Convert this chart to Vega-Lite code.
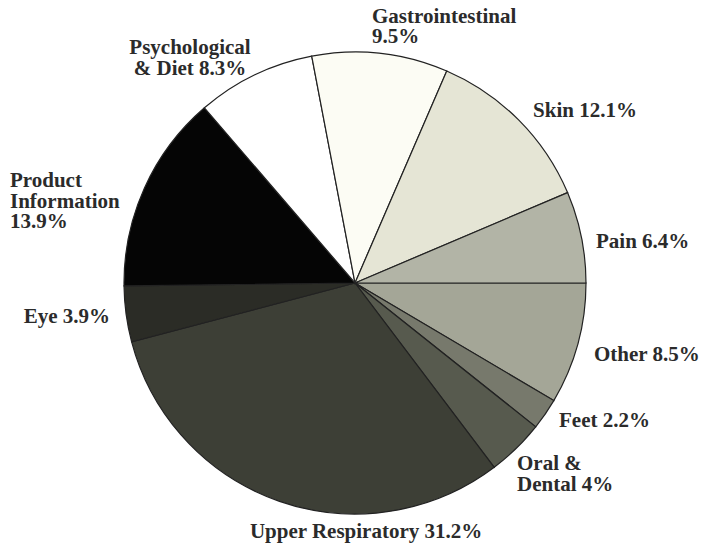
{
  "$schema": "https://vega.github.io/schema/vega-lite/v6.json",
  "width": 694,
  "height": 534,
  "autosize": "none",
  "padding": {"left": 8, "top": 16, "right": 0, "bottom": 0},
  "background": "white",
  "config": {
    "view": {"stroke": null},
    "text": {
      "font": "Liberation Serif",
      "fontWeight": "bold",
      "fontSize": 21,
      "lineHeight": 20.5,
      "lineBreak": "\n",
      "baseline": "alphabetic",
      "fill": "#2b2b2b"
    }
  },
  "data": {
    "values": [
      {"seq": 1, "cat": "Other", "pct": 8.5, "label": "Other 8.5%"},
      {"seq": 2, "cat": "Feet", "pct": 2.2, "label": "Feet 2.2%"},
      {"seq": 3, "cat": "Oral & Dental", "pct": 4, "label": "Oral &\nDental 4%"},
      {"seq": 4, "cat": "Upper Respiratory", "pct": 31.2, "label": "Upper Respiratory 31.2%"},
      {"seq": 5, "cat": "Eye", "pct": 3.9, "label": "Eye 3.9%"},
      {"seq": 6, "cat": "Product Information", "pct": 13.9, "label": "Product\nInformation\n13.9%"},
      {"seq": 7, "cat": "Psychological & Diet", "pct": 8.3, "label": "Psychological\n& Diet 8.3%"},
      {"seq": 8, "cat": "Gastrointestinal", "pct": 9.5, "label": "Gastrointestinal\n9.5%"},
      {"seq": 9, "cat": "Skin", "pct": 12.1, "label": "Skin 12.1%"},
      {"seq": 10, "cat": "Pain", "pct": 6.4, "label": "Pain 6.4%"}
    ]
  },
  "encoding": {
    "theta": {
      "field": "pct",
      "type": "quantitative",
      "stack": true,
      "scale": {"range": [1.5707963, 7.8539816]}
    },
    "order": {"field": "seq", "type": "quantitative"}
  },
  "layer": [
    {
      "mark": {"type": "arc", "outerRadius": 231, "stroke": "#222222", "strokeWidth": 1.2},
      "encoding": {
        "color": {
          "field": "cat",
          "type": "nominal",
          "legend": null,
          "scale": {
            "domain": ["Other", "Feet", "Oral & Dental", "Upper Respiratory", "Eye", "Product Information", "Psychological & Diet", "Gastrointestinal", "Skin", "Pain"],
            "range": ["#a4a697", "#77796c", "#575a4e", "#3d3f36", "#2b2c26", "#050505", "#ffffff", "#fcfcf4", "#e5e5d5", "#b2b4a6"]
          }
        }
      }
    },
    {
      "mark": {"type": "text", "radius": 251.4, "align": "left"},
      "encoding": {
        "theta": {"field": "pct", "type": "quantitative", "stack": true, "bandPosition": 0.59},
        "text": {"condition": {"test": "datum.cat === 'Other'", "field": "label"}, "value": ""}
      }
    },
    {
      "mark": {"type": "text", "radius": 249.7, "align": "left"},
      "encoding": {
        "theta": {"field": "pct", "type": "quantitative", "stack": true, "bandPosition": 0.583},
        "text": {"condition": {"test": "datum.cat === 'Feet'", "field": "label"}, "value": ""}
      }
    },
    {
      "mark": {"type": "text", "radius": 247.4, "align": "left"},
      "encoding": {
        "theta": {"field": "pct", "type": "quantitative", "stack": true, "bandPosition": 0.735},
        "text": {"condition": {"test": "datum.cat === 'Oral & Dental'", "field": "label"}, "value": ""}
      }
    },
    {
      "mark": {"type": "text", "radius": 255.2, "align": "center"},
      "encoding": {
        "theta": {"field": "pct", "type": "quantitative", "stack": true, "bandPosition": 0.308},
        "text": {"condition": {"test": "datum.cat === 'Upper Respiratory'", "field": "label"}, "value": ""}
      }
    },
    {
      "mark": {"type": "text", "radius": 248.2, "align": "right"},
      "encoding": {
        "theta": {"field": "pct", "type": "quantitative", "stack": true, "bandPosition": 0.391},
        "text": {"condition": {"test": "datum.cat === 'Eye'", "field": "label"}, "value": ""}
      }
    },
    {
      "mark": {"type": "text", "radius": 358.1, "align": "left"},
      "encoding": {
        "theta": {"field": "pct", "type": "quantitative", "stack": true, "bandPosition": 0.325},
        "text": {"condition": {"test": "datum.cat === 'Product Information'", "field": "label"}, "value": ""}
      }
    },
    {
      "mark": {"type": "text", "radius": 282.2, "align": "center"},
      "encoding": {
        "theta": {"field": "pct", "type": "quantitative", "stack": true, "bandPosition": 0.164},
        "text": {"condition": {"test": "datum.cat === 'Psychological & Diet'", "field": "label"}, "value": ""}
      }
    },
    {
      "mark": {"type": "text", "radius": 260.6, "align": "left"},
      "encoding": {
        "theta": {"field": "pct", "type": "quantitative", "stack": true, "bandPosition": 0.425},
        "text": {"condition": {"test": "datum.cat === 'Gastrointestinal'", "field": "label"}, "value": ""}
      }
    },
    {
      "mark": {"type": "text", "radius": 243.4, "align": "left"},
      "encoding": {
        "theta": {"field": "pct", "type": "quantitative", "stack": true, "bandPosition": 0.542},
        "text": {"condition": {"test": "datum.cat === 'Skin'", "field": "label"}, "value": ""}
      }
    },
    {
      "mark": {"type": "text", "radius": 243.5, "align": "left"},
      "encoding": {
        "theta": {"field": "pct", "type": "quantitative", "stack": true, "bandPosition": 0.641},
        "text": {"condition": {"test": "datum.cat === 'Pain'", "field": "label"}, "value": ""}
      }
    }
  ]
}
